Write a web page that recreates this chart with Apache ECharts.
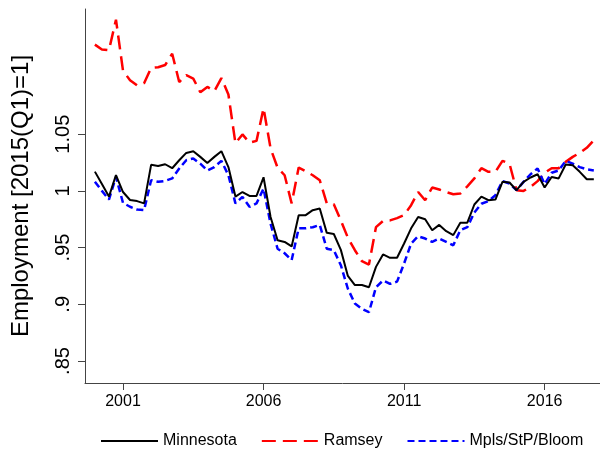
<!DOCTYPE html>
<html>
<head>
<meta charset="utf-8">
<script src="https://cdn.jsdelivr.net/npm/echarts@6/dist/echarts.min.js"></script>
<style>
    html, body { margin: 0; padding: 0; background: #fff; }
    #employment-chart { width: 600px; height: 451px; }
</style>
</head>
<body>
<div id="employment-chart"></div>
<script>
// quarterly series, 2000Q1 .. 2017Q4
const firstYear = 2000;
const yearTicks = [2001, 2006, 2011, 2016];
const employmentTicks = [0.85, 0.9, 0.95, 1, 1.05];

const minnesota = [
    1.017, 1.006, 0.995, 1.014, 0.999, 0.992, 0.991, 0.989,
    1.023, 1.022, 1.0235, 1.020, 1.027, 1.0335, 1.035, 1.030,
    1.0247, 1.030, 1.035, 1.021, 0.995, 0.999, 0.9956, 0.9956,
    1.012, 0.977, 0.9565, 0.955, 0.951, 0.9786, 0.9786, 0.983,
    0.9845, 0.963, 0.962, 0.948, 0.925, 0.917, 0.917, 0.915,
    0.933, 0.944, 0.941, 0.941, 0.9536, 0.967, 0.977, 0.975,
    0.9653, 0.970, 0.9645, 0.961, 0.972, 0.972, 0.988, 0.995,
    0.9918, 0.9924, 1.008, 1.0074, 1.0006, 1.008, 1.0118, 1.0147,
    1.003, 1.0123, 1.011, 1.0233, 1.0227, 1.0168, 1.0103, 1.0103,
];
const ramsey = [
    1.129, 1.1247, 1.124, 1.151, 1.106, 1.0976, 1.093, 1.095,
    1.1085, 1.109, 1.111, 1.121, 1.096, 1.102, 1.099, 1.087,
    1.0917, 1.088, 1.0995, 1.085, 1.042, 1.0498, 1.0425, 1.0441,
    1.073, 1.0375, 1.0204, 1.0138, 0.989, 1.0206, 1.0174, 1.0138,
    1.0094, 0.989, 0.9883, 0.974, 0.9587, 0.9477, 0.938, 0.935,
    0.968, 0.9735, 0.974, 0.976, 0.9786, 0.9874, 0.999, 0.9918,
    1.003, 1.0012, 0.999, 0.997, 0.9977, 1.004, 1.011, 1.020,
    1.0168, 1.0168, 1.0265, 1.024, 1.0006, 1.000, 1.0035, 1.0086,
    1.0159, 1.020, 1.020, 1.0256, 1.030, 1.0335, 1.038, 1.0447,
];
const mplsStpBloom = [
    1.008, 1.000, 0.9924, 1.0123, 0.9894, 0.986, 0.9836, 0.983,
    1.0094, 1.008, 1.0088, 1.011, 1.0198, 1.027, 1.0286, 1.024,
    1.018, 1.021, 1.0265, 1.0138, 0.989, 0.9947, 0.986, 0.989,
    1.002, 0.971, 0.949, 0.945, 0.939, 0.967, 0.967, 0.968,
    0.970, 0.949, 0.9477, 0.9345, 0.9137, 0.9007, 0.896, 0.893,
    0.915, 0.921, 0.918, 0.920, 0.936, 0.9536, 0.960, 0.958,
    0.955, 0.958, 0.955, 0.952, 0.9653, 0.968, 0.981, 0.9887,
    0.991, 0.9962, 1.0086, 1.0065, 1.0006, 1.008, 1.0147, 1.0198,
    1.006, 1.016, 1.018, 1.0265, 1.024, 1.021, 1.019, 1.018,
];

const toPoints = values => values.map((v, i) => [firstYear + i / 4, v]);
const fmtTick = v => String(v).replace(/^0\./, '.');
const fontFamily = '"Liberation Sans", Arial, Helvetica, sans-serif';

const chart = echarts.init(document.getElementById('employment-chart'));
chart.setOption({
    backgroundColor: '#fff',
    animation: false,
    grid: {
        left: 85,
        right: 0,
        top: 9,
        bottom: 68,
    },
    legend: {
        show: true,
        left: 95,
        top: 428,
        itemWidth: 57,
        itemHeight: 18,
        itemGap: 24,
        // line only, no marker in the key
        itemStyle: {
            color: 'transparent',
            borderColor: 'transparent',
            borderWidth: 0,
        },
        textStyle: {
            fontFamily,
            fontSize: 16,
            color: '#000',
        },
        data: ['Minnesota', 'Ramsey', 'Mpls/StP/Bloom'],
    },
    xAxis: {
        type: 'value',
        min: 1999.648,
        max: 2017.97,
        splitLine: { show: false },
        axisLine: { lineStyle: { color: '#444', width: 1 } },
        axisTick: {
            customValues: yearTicks,
            length: 7,
            lineStyle: { color: '#444' },
        },
        axisLabel: {
            customValues: yearTicks,
            margin: 11,
            fontFamily,
            fontSize: 16,
            color: '#000',
            formatter: v => String(v),
        },
    },
    yAxis: {
        type: 'value',
        min: 0.8306,
        max: 1.1604,
        name: 'Employment [2015(Q1)=1]',
        nameLocation: 'middle',
        nameRotate: 90,
        nameGap: 52,
        nameTextStyle: {
            fontFamily,
            fontSize: 24,
            color: '#000',
        },
        splitLine: { show: false },
        axisLine: { show: true, lineStyle: { color: '#444', width: 1 } },
        axisTick: {
            show: true,
            customValues: employmentTicks,
            length: 7,
            lineStyle: { color: '#444' },
        },
        axisLabel: {
            customValues: employmentTicks,
            rotate: 90,
            margin: 12,
            fontFamily,
            fontSize: 20,
            color: '#000',
            formatter: fmtTick,
        },
    },
    series: [
        {
            name: 'Minnesota',
            type: 'line',
            symbol: 'none',
            z: 3,
            lineStyle: { color: '#000', width: 2 },
            itemStyle: { color: '#000' },
            data: toPoints(minnesota),
        },
        {
            name: 'Ramsey',
            type: 'line',
            symbol: 'none',
            z: 2,
            lineStyle: { color: '#ff0000', width: 2.5, type: [14, 7] },
            itemStyle: { color: '#ff0000' },
            data: toPoints(ramsey),
        },
        {
            name: 'Mpls/StP/Bloom',
            type: 'line',
            symbol: 'none',
            z: 2,
            lineStyle: { color: '#0000ff', width: 2.5, type: [7, 4] },
            itemStyle: { color: '#0000ff' },
            data: toPoints(mplsStpBloom),
        },
    ],
});
window.addEventListener('resize', () => {
    chart.resize();
});
</script>
</body>
</html>
